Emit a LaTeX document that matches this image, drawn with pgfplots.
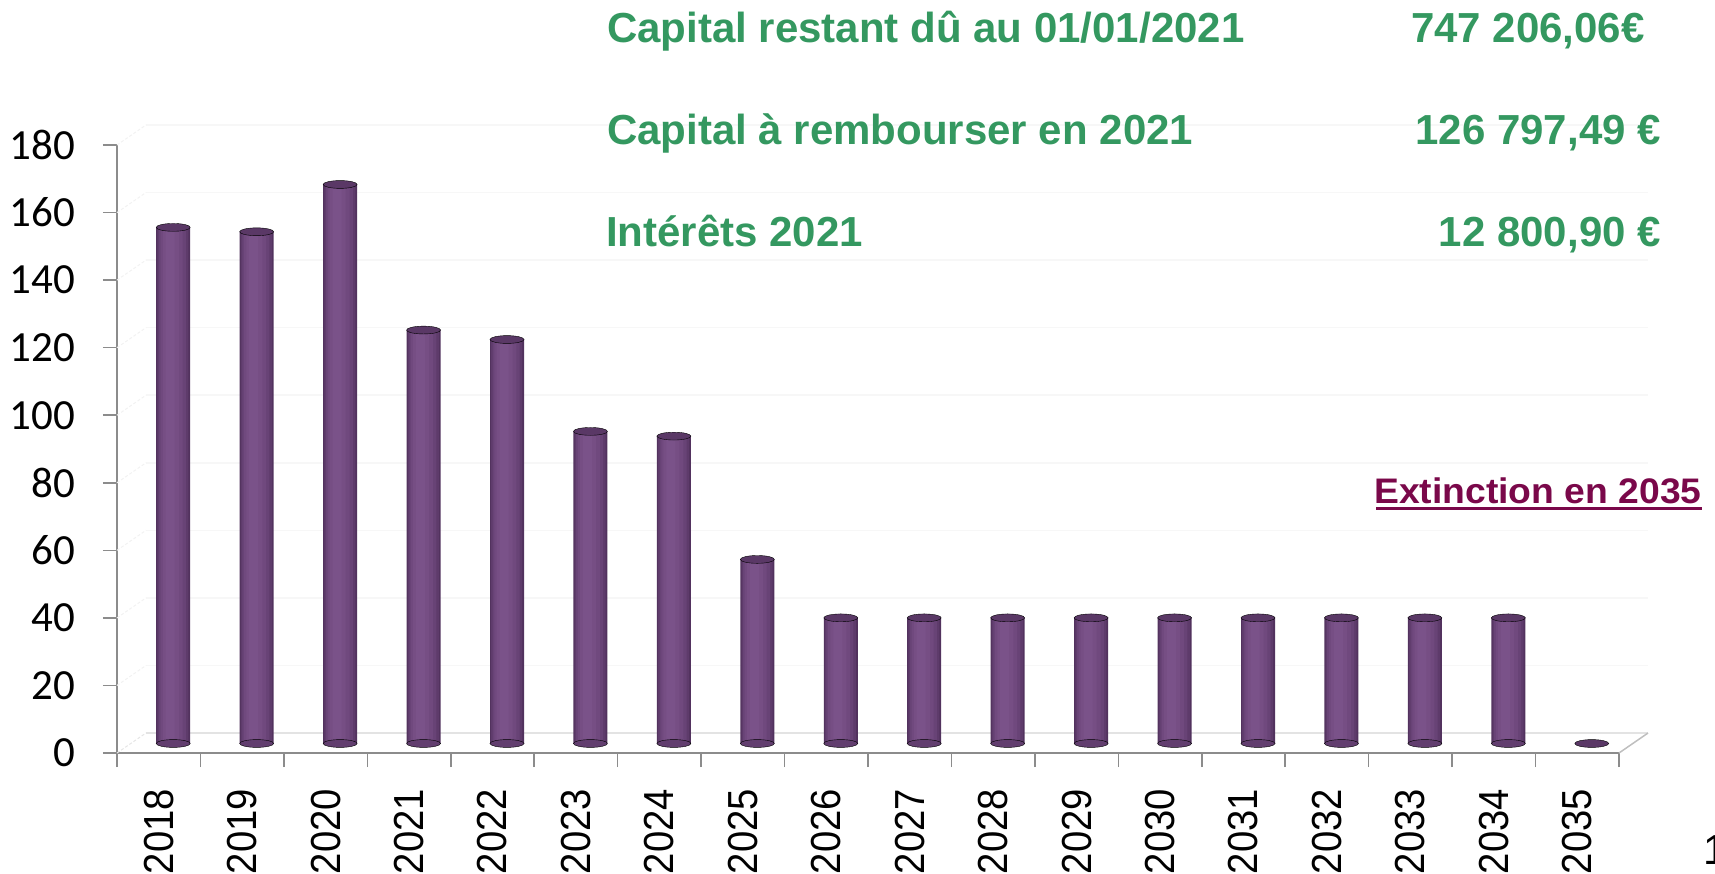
\documentclass[border=0pt]{standalone}
\usepackage{pgfplots}
\usepackage{pgfplotstable}
\pgfplotsset{compat=1.18}
\usepackage{fontspec}
\setmainfont{Liberation Sans}
\newfontfamily\carlito{Carlito}
\newfontfamily\yearfont{Liberation Sans}[FakeStretch=0.91]
\newfontfamily\extfont{Liberation Sans}[FakeStretch=1.05]
\definecolor{vert}{RGB}{52,152,96}
\definecolor{ext}{RGB}{122,8,74}
\definecolor{bc1}{RGB}{82,50,94}
\definecolor{bc2}{RGB}{94,59,107}
\definecolor{bc3}{RGB}{104,67,118}
\definecolor{bc4}{RGB}{112,73,126}
\definecolor{bc5}{RGB}{118,78,132}
\definecolor{bc6}{RGB}{122,82,137}
\definecolor{btop}{RGB}{90,56,102}
\definecolor{bbot}{RGB}{98,62,111}
\definecolor{axgray}{RGB}{140,140,140}

\pgfplotsset{cyl/.style n args={3}{ybar, bar width=#1, bar shift=#2, draw=none, fill=#3}}

\pgfplotstableread{
x   v
0.5 152.8
1.5 151.5
2.5 165.5
3.5 122.4
4.5 119.6
5.5 92.4
6.5 91.0
7.5 54.5
8.5 37.2
9.5 37.2
10.5 37.2
11.5 37.2
12.5 37.2
13.5 37.2
14.5 37.2
15.5 37.2
16.5 37.2
}\bars

\pgfplotstableread{
x   v
0.5 152.8
1.5 151.5
2.5 165.5
3.5 122.4
4.5 119.6
5.5 92.4
6.5 91.0
7.5 54.5
8.5 37.2
9.5 37.2
10.5 37.2
11.5 37.2
12.5 37.2
13.5 37.2
14.5 37.2
15.5 37.2
16.5 37.2
17.5 0
}\tops

\begin{document}
\begin{tikzpicture}[x=1pt,y=1pt]
\useasboundingbox (0,0) rectangle (1715,873);
\begin{axis}[
  at={(117pt,120pt)}, anchor=south west,
  scale only axis, width=1502pt, height=608pt,
  xmin=0, xmax=18, ymin=0, ymax=180,
  clip=false,
  axis x line*=bottom, axis y line*=left,
  axis line style={draw=axgray, line width=1.5pt, -},
  tick align=outside,
  major tick length=14pt,
  tick style={draw=axgray, line width=1.5pt},
  xtick={0,1,...,18},
  x tick label as interval,
  xticklabels={2018,2019,2020,2021,2022,2023,2024,2025,2026,2027,2028,2029,2030,2031,2032,2033,2034,2035},
  xticklabel style={font=\yearfont\fontsize{42}{42}\selectfont, rotate=90, anchor=east, inner sep=0pt},
  xticklabel shift=22pt,
  ytick={0,20,...,180},
  yticklabel style={font=\carlito\fontsize{43}{43}\selectfont, anchor=east, inner sep=0pt},
  yticklabel shift=28pt,
  /pgf/number format/assume math mode=true,
]
\pgfplotsinvokeforeach{20,40,...,180}{
  \draw[color=gray!6, line width=1.5pt] ([shift={(29pt,20pt)}]axis cs:0,#1) -- ([shift={(29pt,20pt)}]axis cs:18,#1);
  \draw[color=gray!10, line width=1pt, densely dashed] (axis cs:0,#1) -- ([shift={(29pt,20pt)}]axis cs:0,#1);
}
\draw[color=gray!22, line width=1.5pt] ([shift={(29pt,20pt)}]axis cs:0,0) -- ([shift={(29pt,20pt)}]axis cs:18,0);
\draw[color=gray!20, line width=1pt, densely dashed] (axis cs:0,0) -- ([shift={(29pt,20pt)}]axis cs:0,0);
\draw[color=gray!50, line width=1.5pt] (axis cs:18,0) -- ([shift={(29pt,20pt)}]axis cs:18,0);
\end{axis}

\begin{axis}[
  at={(131.5pt,129.5pt)}, anchor=south west,
  scale only axis, width=1502pt, height=608pt,
  xmin=0, xmax=18, ymin=0, ymax=180,
  hide axis, clip=false,
]
\addplot[only marks, mark=*, mark size=17pt, mark options={yscale=0.23, draw=none, fill=bbot}] table[x=x,y expr=0] {\bars};
\addplot[cyl={34pt}{0pt}{bc1}] table[x=x,y=v] {\bars};
\addplot[cyl={31pt}{-0.3pt}{bc2}] table[x=x,y=v] {\bars};
\addplot[cyl={27pt}{-0.8pt}{bc3}] table[x=x,y=v] {\bars};
\addplot[cyl={22pt}{-1.6pt}{bc4}] table[x=x,y=v] {\bars};
\addplot[cyl={16pt}{-2.4pt}{bc5}] table[x=x,y=v] {\bars};
\addplot[cyl={9pt}{-3pt}{bc6}] table[x=x,y=v] {\bars};
\addplot[only marks, mark=*, mark size=17pt, mark options={yscale=0.23, draw=none, fill=btop}] table[x=x,y=v] {\tops};
\end{axis}

\begin{scope}[every node/.style={inner sep=0pt}]
\node[anchor=base west, text=vert, font=\bfseries\fontsize{42}{42}\selectfont] at (607,830) {Capital restant dû au 01/01/2021};
\node[anchor=base west, text=vert, font=\bfseries\fontsize{42}{42}\selectfont] at (607,728) {Capital à rembourser en 2021};
\node[anchor=base west, text=vert, font=\bfseries\fontsize{42}{42}\selectfont] at (606,626) {Intérêts 2021};
\node[anchor=base west, text=vert, font=\bfseries\fontsize{42}{42}\selectfont] at (1411,830) {747 206,06€};
\node[anchor=base east, text=vert, font=\bfseries\fontsize{42}{42}\selectfont] at (1661,728) {126 797,49 €};
\node[anchor=base east, text=vert, font=\bfseries\fontsize{42}{42}\selectfont] at (1661,626) {12 800,90 €};
\node[anchor=base west, text=ext, font=\extfont\bfseries\fontsize{35.5}{36}\selectfont] at (1374,369.7) {Extinction en 2035};
\draw[ext, line width=3pt] (1376,364) -- (1702,364);
\node[anchor=base west, font=\fontsize{42}{42}\selectfont] at (1703,9) {1};
\end{scope}
\end{tikzpicture}
\end{document}
